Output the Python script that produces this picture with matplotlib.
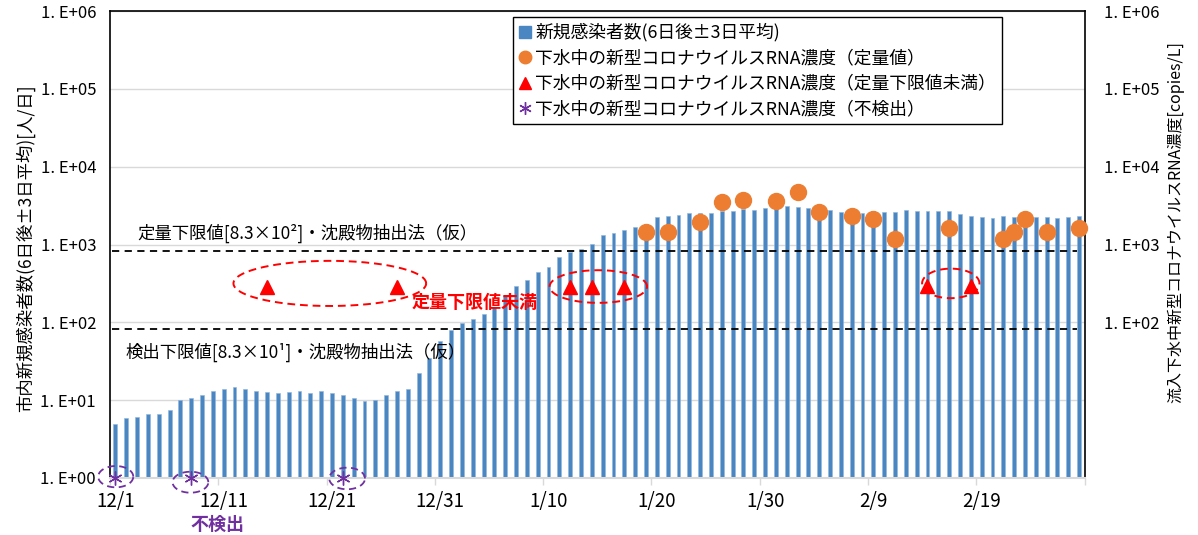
import numpy as np
import pandas as pd
import matplotlib
matplotlib.use('Agg')
import matplotlib.pyplot as plt
from matplotlib.lines import Line2D

plt.rcParams['font.family'] = ['Noto Sans CJK JP', 'DejaVu Sans']

# ---------------- data ----------------
dates = pd.date_range('2020-12-01', '2021-02-28', freq='D')
day_labels = [f"{d.month}/{d.day}" for d in dates]

cases = [5.0, 5.85, 6.0, 6.6, 6.6, 7.4, 10.0, 10.6, 11.6, 13.1,
         13.8, 14.8, 14.1, 13.3, 12.7, 12.2, 12.7, 13.0, 12.4, 13.0,
         12.2, 11.7, 10.8, 9.8, 10.0, 11.6, 13.3, 14.1, 22.3, 35.0,
         58, 80, 97, 110, 128, 159, 220, 293, 350, 440,
         514, 685, 801, 884, 1026, 1313, 1406, 1536, 1663, 1836,
         2277, 2346, 2371, 2514, 2540, 2565, 2718, 2694, 2858, 2774,
         2970, 3125, 3125, 3006, 2917, 2900, 2800, 2643, 2590, 2565,
         2694, 2624, 2624, 2774, 2694, 2694, 2694, 2694, 2445, 2323,
         2277, 2212, 2346, 2277, 2300, 2234, 2234, 2168, 2255, 2300]

quant_dates = ['1/19', '1/21', '1/24', '1/26', '1/28', '1/31', '2/2', '2/4', '2/7',
               '2/9', '2/11', '2/16', '2/21', '2/22', '2/23', '2/25', '2/28']
quant_vals = [1449, 1449, 1929, 3517, 3767, 3590, 4730, 2617, 2323,
              2148, 1166, 1644, 1166, 1462, 2128, 1449, 1644]

below_dates = ['12/15', '12/27', '1/12', '1/14', '1/17', '2/14', '2/18']
below_vals = [285, 285, 287, 287, 287, 292, 292]

nd_dates = ['12/1', '12/8', '12/22']
nd_vals = [1, 1, 1]

loq_value = 830
lod_value = 83

label_dates = ['12/1', '12/11', '12/21', '12/31', '1/10', '1/20', '1/30', '2/9', '2/19']

# ellipses: (center x in days-index, center log10 y, half-width, half-height in decades)
red_ellipses = [(19.8, 2.50, 8.9, 0.29), (44.6, 2.46, 4.5, 0.21), (77.15, 2.50, 2.65, 0.19)]
purple_ellipses = [(0.03, 0.017, 1.62, 0.137), (6.93, -0.054, 1.65, 0.135), (21.4, -0.006, 1.65, 0.139)]

# ---------------- figure ----------------
W, H = 1198, 535
fig = plt.figure(figsize=(W / 100, H / 100), dpi=100)
x0, x1, y0, y1 = 110, 1084.5, 11, 478
ax = fig.add_axes([x0 / W, 1 - y1 / H, (x1 - x0) / W, (y1 - y0) / H])

xi = np.arange(len(cases))
idx = {lab: i for i, lab in enumerate(day_labels)}

ax.set_yscale('log')
ax.set_ylim(1, 1e6)
ax.set_xlim(-0.5, len(cases) - 0.5)

ax.bar(xi, cases, width=0.36, color='#4a86c2', edgecolor='#8fb4dc', linewidth=0.4, zorder=2)

ax.plot([-0.3, 88.8], [loq_value, loq_value], color='black', ls=(0, (4, 3)), lw=1.3, zorder=3)
ax.plot([-0.3, 88.8], [lod_value, lod_value], color='black', ls=(0, (4, 3)), lw=1.3, zorder=3)

ax.plot([idx[d] for d in quant_dates], quant_vals, 'o', color='#ed7d31', ms=11.5,
        mec='#ed7d31', zorder=5, clip_on=False)
ax.plot([idx[d] for d in below_dates], below_vals, '^', color='#ff0000', ms=10, zorder=5)
ax.plot([idx[d] for d in nd_dates], nd_vals, ls='none', marker=(6, 2, 0), color='#7030a0',
        mec='#7030a0', ms=10, mew=1.0, zorder=5, clip_on=False)

t = np.linspace(0, 2 * np.pi, 200)
for cx, cy, rx, ry in red_ellipses:
    ax.plot(cx + rx * np.cos(t), 10 ** (cy + ry * np.sin(t)), color='#ff0000',
            ls=(0, (4, 2.5)), lw=1.4, zorder=6, clip_on=False)
for cx, cy, rx, ry in purple_ellipses:
    ax.plot(cx + rx * np.cos(t), 10 ** (cy + ry * np.sin(t)), color='#7030a0',
            ls=(0, (4, 2.5)), lw=1.3, zorder=6, clip_on=False)

# grid & spines
yt = [10 ** k for k in range(7)]
ax.set_yticks(yt)
ax.set_yticklabels([f"1. E+{k:02d}" for k in range(7)])
ax.yaxis.set_minor_locator(matplotlib.ticker.NullLocator())
ax.grid(axis='y', which='major', color='#d9d9d9', lw=1, zorder=0)
ax.set_axisbelow(True)
ax.tick_params(axis='y', length=0, pad=10, labelsize=12)

ax.set_xticks([idx[d] for d in label_dates])
ax.set_xticklabels(label_dates)
ax.set_xticks(np.arange(-0.5, len(cases), 10), minor=True)
ax.tick_params(axis='x', which='major', length=0, pad=9, labelsize=13.5)
ax.tick_params(axis='x', which='minor', length=5, color='#d9d9d9', width=1)

for s in ['top', 'left', 'right']:
    ax.spines[s].set_color('black')
    ax.spines[s].set_linewidth(1.2)
ax.spines['bottom'].set_color('#d9d9d9')
ax.spines['bottom'].set_linewidth(1.5)

ax2 = ax.twinx()
ax2.set_yscale('log')
ax2.set_ylim(1, 1e6)
ax2.set_yticks(yt[2:])
ax2.set_yticklabels([f"1. E+{k:02d}" for k in range(2, 7)])
ax2.yaxis.set_minor_locator(matplotlib.ticker.NullLocator())
ax2.tick_params(axis='y', length=0, pad=14, labelsize=12)
for s in ax2.spines.values():
    s.set_visible(False)

# texts
ax.text(2.0, 1400, '定量下限値[8.3×10²]・沈殿物抽出法（仮）', fontsize=12.5, va='center', ha='left', zorder=7)
ax.text(0.9, 41.6, '検出下限値[8.3×10¹]・沈殿物抽出法（仮）', fontsize=12.5, va='center', ha='left', zorder=7)
ax.text(27.4, 182, '定量下限値未満', fontsize=13, fontweight='bold', color='#ff0000',
        va='center', ha='left', zorder=7)
ax.text(9.4, 0.255, '不検出', fontsize=13, fontweight='bold', color='#7030a0',
        va='center', ha='center', clip_on=False)

fig.text(25.5 / W, 1 - 248 / H, '市内新規感染者数(6日後±3日平均)[人/日]', rotation=90,
         fontsize=12.5, ha='center', va='center')
fig.text(1176 / W, 1 - 222 / H, '流入下水中新型コロナウイルスRNA濃度[copies/L]', rotation=90,
         fontsize=11.5, ha='center', va='center')

handles = [
    Line2D([], [], ls='none', marker='s', color='#4a86c2', ms=8),
    Line2D([], [], ls='none', marker='o', color='#ed7d31', ms=9),
    Line2D([], [], ls='none', marker='^', color='#ff0000', ms=9),
    Line2D([], [], ls='none', marker=(6, 2, 0), color='#7030a0', ms=9, mew=1),
]
labels = ['新規感染者数(6日後±3日平均)',
          '下水中の新型コロナウイルスRNA濃度（定量値）',
          '下水中の新型コロナウイルスRNA濃度（定量下限値未満）',
          '下水中の新型コロナウイルスRNA濃度（不検出）']
leg = ax.legend(handles, labels, loc='upper left',
                bbox_to_anchor=((513 - x0) / (x1 - x0), (y1 - 17) / (y1 - y0)),
                fontsize=12.8, frameon=True, fancybox=False, framealpha=1,
                edgecolor='black', handlelength=0.7, handletextpad=0.2,
                borderpad=0.35, labelspacing=0.42, borderaxespad=0)
leg.get_frame().set_linewidth(1.0)
leg.set_zorder(10)

fig.savefig('out.png', dpi=100)
